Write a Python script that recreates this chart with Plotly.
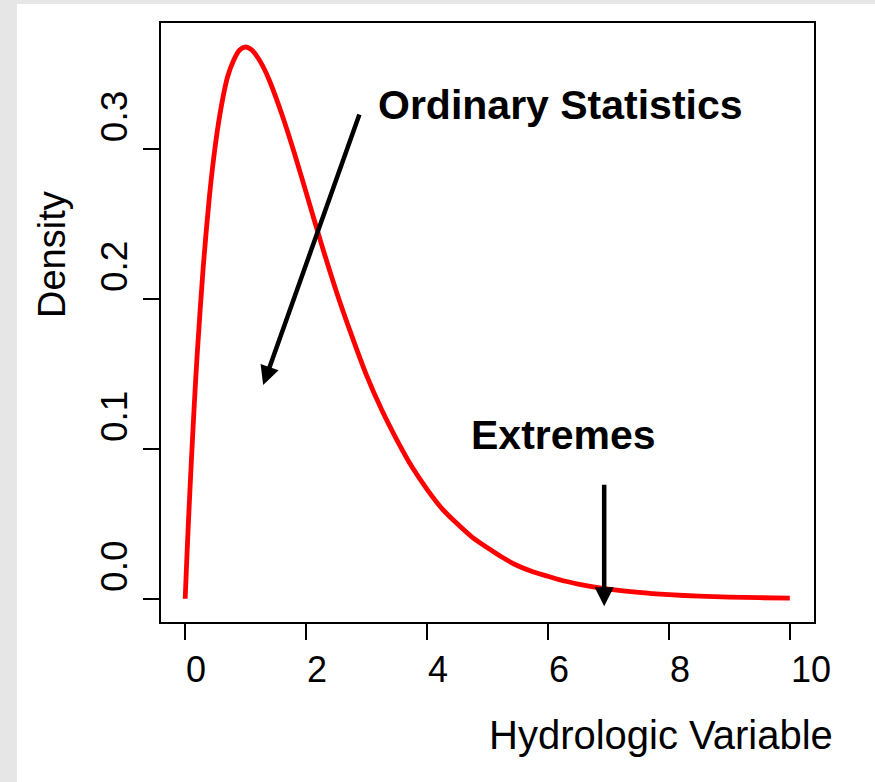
import plotly.graph_objects as go

# Values
x_vals = [0, 0.02, 0.05, 0.1, 0.15, 0.2, 0.3, 0.4, 0.5, 0.6, 0.7, 0.8, 0.9, 1.0, 1.1, 1.2,
          1.3, 1.4, 1.6, 1.8, 2.0, 2.25, 2.5, 2.75, 3.0, 3.25, 3.5, 3.75, 4.0, 4.25, 4.5,
          4.75, 5.0, 5.25, 5.5, 5.75, 6.0, 6.25, 6.5, 6.75, 7.0, 7.5, 8.0, 8.5, 9.0, 9.5, 10.0]
density = [0, 0.0196, 0.048, 0.090, 0.129, 0.164, 0.222, 0.268, 0.303, 0.329, 0.348,
           0.359, 0.366, 0.368, 0.366, 0.361, 0.354, 0.345, 0.323, 0.298, 0.271, 0.237,
           0.205, 0.176, 0.149, 0.126, 0.106, 0.088, 0.073, 0.060, 0.050, 0.041, 0.034,
           0.0275, 0.022, 0.018, 0.015, 0.012, 0.0098, 0.0079, 0.0064, 0.0042, 0.0027,
           0.0017, 0.0011, 0.0007, 0.00045]

x_ticks = [0, 2, 4, 6, 8, 10]
x_tick_text = ["0", "2", "4", "6", "8", "10"]
y_ticks = [0.0, 0.1, 0.2, 0.3]
y_tick_text = ["0.0", "0.1", "0.2", "0.3"]

x_title = "Hydrologic Variable"
y_title = "Density"
label_ordinary = "Ordinary Statistics"
label_extremes = "Extremes"

FONT = "Liberation Sans, Arial, sans-serif"

fig = go.Figure()
fig.add_trace(go.Scatter(x=x_vals, y=density, mode="lines",
                         line=dict(color="#ff0000", width=4.8, shape="spline", smoothing=0.7),
                         hoverinfo="skip", showlegend=False))

fig.update_layout(
    width=875, height=782,
    margin=dict(l=161, r=61, t=23, b=160),
    paper_bgcolor="#e6e6e6",
    plot_bgcolor="white",
    font=dict(family=FONT, size=36, color="black"),
    showlegend=False,
)

fig.update_xaxes(range=[-0.4, 10.4], tickvals=x_ticks, ticktext=x_tick_text,
                 showticklabels=False,
                 showgrid=False, zeroline=False, showline=True, mirror=True,
                 linecolor="black", linewidth=1.5, ticks="outside", ticklen=16,
                 tickwidth=1.5, tickcolor="black")
fig.update_yaxes(range=[-0.0155, 0.384], tickvals=y_ticks, ticktext=y_tick_text,
                 showgrid=False, zeroline=False, showline=True, mirror=True,
                 linecolor="black", linewidth=1.5, ticks="outside", ticklen=16,
                 tickwidth=1.5, tickcolor="black", tickangle=-90, ticklabelstandoff=1,
                 ticklabelshift=-27,
                 tickfont=dict(family=FONT, size=37, color="black"))

# x tick labels, left-aligned just right of each tick as in the reference
for tv, tt in zip(x_ticks, x_tick_text):
    fig.add_annotation(text=tt, x=tv, xref="x", y=(622 - 670) / 599, yref="paper",
                       xanchor="left", yanchor="middle", xshift=-1, showarrow=False,
                       font=dict(family=FONT, size=36, color="black"))

# white page panel
fig.add_shape(type="rect", xref="paper", yref="paper",
              x0=(17 - 161) / 653, x1=(880 - 161) / 653,
              y0=(622 - 790) / 599, y1=(622 - 4) / 599,
              fillcolor="white", line=dict(width=0), layer="below")

fig.add_annotation(text=x_title, xref="paper", yref="paper",
                   x=(661 - 161) / 653, y=(622 - 735) / 599,
                   showarrow=False, xanchor="center", yanchor="middle",
                   font=dict(family=FONT, size=40, color="black"))
fig.add_annotation(text=y_title, xref="paper", yref="paper",
                   x=(52 - 161) / 653, y=(622 - 255) / 599, textangle=-90,
                   showarrow=False, xanchor="center", yanchor="middle",
                   font=dict(family=FONT, size=38, color="black"))

fig.add_annotation(text="<b>" + label_ordinary + "</b>", x=3.15, y=0.3295,
                   xanchor="left", yanchor="middle", showarrow=False,
                   font=dict(family=FONT, size=41, color="black"))
fig.add_annotation(text="<b>" + label_extremes + "</b>", x=6.25, y=0.109,
                   xanchor="center", yanchor="middle", showarrow=False,
                   font=dict(family=FONT, size=41, color="black"))

# arrows
fig.add_annotation(x=1.29, y=0.1425, ax=2.89, ay=0.324, xref="x", yref="y",
                   axref="x", ayref="y", text="", showarrow=True,
                   arrowhead=2, arrowsize=0.85, arrowwidth=4.5, arrowcolor="black")
fig.add_annotation(x=6.93, y=-0.005, ax=6.93, ay=0.077, xref="x", yref="y",
                   axref="x", ayref="y", text="", showarrow=True,
                   arrowhead=2, arrowsize=0.85, arrowwidth=4.5, arrowcolor="black")

fig.write_html("out.html", config={"displayModeBar": False},
               post_script="document.body.style.margin='0';document.body.style.overflow='hidden';")
